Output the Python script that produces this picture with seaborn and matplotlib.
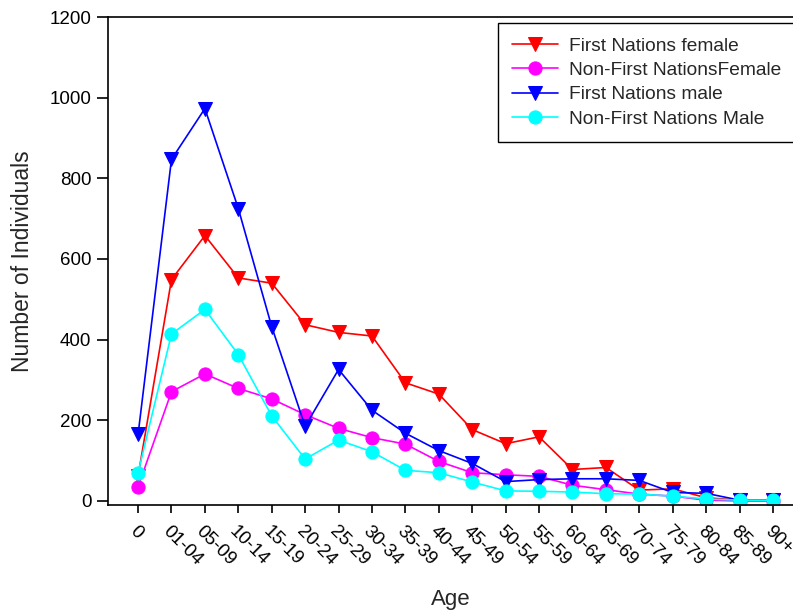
import matplotlib
matplotlib.use('Agg')
import matplotlib.pyplot as plt
import numpy as np
import pandas as pd
import seaborn as sns

# age groups on the x axis
ages = ['0', '01-04', '05-09', '10-14', '15-19', '20-24', '25-29', '30-34', '35-39',
        '40-44', '45-49', '50-54', '55-59', '60-64', '65-69', '70-74', '75-79',
        '80-84', '85-89', '90+']

# counts
fn_female = [62, 549, 658, 553, 540, 437, 418, 409, 293, 265, 177, 142, 159, 78, 83,
             27, 30, 8, 2, 2]
nonfn_female = [35, 271, 315, 279, 253, 214, 180, 157, 141, 98, 70, 65, 61, 39, 28,
                17, 12, 2, 0, 0]
fn_male = [165, 847, 973, 725, 432, 185, 326, 225, 168, 125, 93, 48, 53, 55, 55,
           51, 21, 19, 2, 2]
nonfn_male = [70, 414, 475, 363, 211, 104, 151, 122, 76, 70, 47, 25, 24, 22, 18,
              17, 12, 5, 2, 2]

series = [
    ('First Nations female', fn_female, 'red', 'v'),
    ('Non-First NationsFemale', nonfn_female, 'magenta', 'o'),
    ('First Nations male', fn_male, 'blue', 'v'),
    ('Non-First Nations Male', nonfn_male, 'cyan', 'o'),
]

sns.set_style('ticks')
plt.rcParams['font.family'] = ['Liberation Sans', 'DejaVu Sans']

fig = plt.figure(figsize=(7.93, 6.11), dpi=100)
ax = fig.add_axes([108 / 793, 106 / 611, 685 / 793, 488 / 611])

pos = np.arange(len(ages))
for name, vals, col, mk in series:
    df = pd.DataFrame({'pos': pos, 'count': vals})
    sns.lineplot(data=df, x='pos', y='count', color=col, marker=mk, markersize=9.5,
                 markeredgecolor=col, linewidth=1.2, label=name, ax=ax)

ax.set_xlim(-0.9, 19.6)
ax.set_ylim(-10, 1200)
ax.set_yticks(np.arange(0, 1201, 200))
ax.set_xticks(pos)
ax.set_xticklabels(ages, rotation=-45, ha='left', va='top', rotation_mode='anchor')

for side in ['left', 'bottom', 'top']:
    ax.spines[side].set_color('black')
    ax.spines[side].set_linewidth(1.2)
ax.spines['right'].set_visible(False)
ax.tick_params(axis='both', direction='out', width=1.2, colors='black', labelsize=13.5)
ax.tick_params(axis='y', length=8, pad=4)
ax.tick_params(axis='x', length=5.5, pad=7)

ax.set_xlabel('Age', fontsize=16, labelpad=15)
ax.set_ylabel('Number of Individuals', fontsize=16.5, labelpad=11)

leg = ax.legend(loc='upper left', bbox_to_anchor=(498 / 793, 1 - 23 / 611),
                bbox_transform=fig.transFigure, borderaxespad=0, fontsize=13.8,
                frameon=True, fancybox=False, framealpha=1, edgecolor='black',
                handlelength=2.4, handletextpad=0.55, labelspacing=0.36,
                borderpad=0.75)
leg.get_frame().set_linewidth(1.0)

fig.savefig('out.png', dpi=100)
